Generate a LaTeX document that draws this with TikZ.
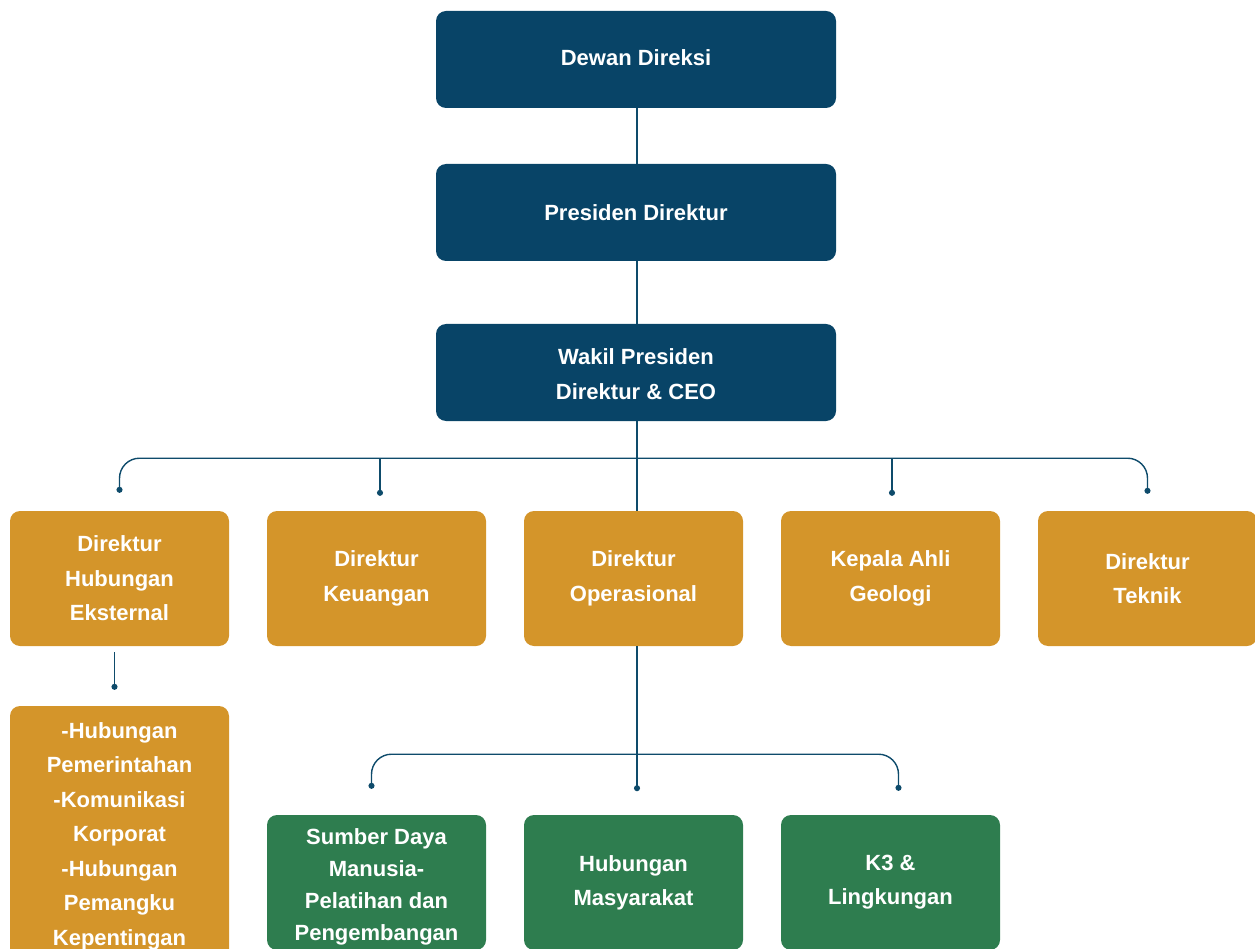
\documentclass[tikz,border=0pt]{standalone}
\usepackage{fontspec}
\setmainfont{Liberation Sans}
\usetikzlibrary{arrows.meta,calc}
\definecolor{navy}{HTML}{084467}
\definecolor{ochre}{HTML}{D4952A}
\definecolor{leaf}{HTML}{2E7D4F}
\definecolor{wire}{HTML}{0E4B6B}
\begin{document}
\begin{tikzpicture}[x=1pt,y=-1pt,
  box/.style={rounded corners=10pt, minimum width=219pt, minimum height=135pt,
    text=white, align=center, inner sep=0pt,
    font=\bfseries\fontsize{22}{34.5}\selectfont},
  topbox/.style={box, fill=navy, minimum width=400pt, minimum height=97pt},
  dirbox/.style={box, fill=ochre},
  unitbox/.style={box, fill=leaf, font=\bfseries\fontsize{22}{32}\selectfont},
  link/.style={draw=wire, line width=1.4pt},
  dot/.style={-{Circle[length=6pt]}}
]
\useasboundingbox (0,0) rectangle (1255,949);
\clip (0,0) rectangle (1255,949);

% board and executive levels
\node[topbox] (dewan) at (636,59.5) {};
\node[text=white, font=\bfseries\fontsize{22}{34.5}\selectfont] at ($(dewan)+(0,-2)$) {Dewan Direksi};
\node[topbox] (pres) at (636,212.5) {Presiden Direktur};
\node[topbox] (wakil) at (636,372.5) {};
\node[text=white, align=center, inner sep=0pt, font=\bfseries\fontsize{22}{34.5}\selectfont]
  at ($(wakil)+(0,1.5)$) {Wakil Presiden\\Direktur \& CEO};

% directors
\node[dirbox] (hub) at (119.5,578.5) {Direktur\\Hubungan\\Eksternal};
\node[dirbox] (keu) at (376.5,578.5) {Direktur\\Keuangan};
\node[dirbox] (ops) at (633.5,578.5) {Direktur\\Operasional};
\node[dirbox] (geo) at (890.5,578.5) {Kepala Ahli\\Geologi};
\node[dirbox] (tek) at (1147.5,578.5) {Direktur\\Teknik};

% departments
\node[dirbox, minimum height=256pt] (ext) at (119.5,834) {};
\node[text=white, align=center, inner sep=0pt, font=\bfseries\fontsize{22}{34.5}\selectfont]
  at ($(ext)+(0,2)$) {-Hubungan\\Pemerintahan\\-Komunikasi\\Korporat\\-Hubungan\\Pemangku\\Kepentingan};
\node[unitbox] (sdm) at (376.5,882.5) {};
\node[unitbox] (hm) at (633.5,882.5) {};
\node[unitbox] (k3) at (890.5,882.5) {};
\begin{scope}[every node/.style={text=white, align=center, inner sep=0pt,
    font=\bfseries\fontsize{22}{32}\selectfont}]
  \node at ($(sdm)+(0,4)$) {Sumber Daya\\Manusia-\\Pelatihan dan\\Pengembangan};
  \node[font=\bfseries\fontsize{22}{34}\selectfont] at (hm) {Hubungan\\Masyarakat};
  \node[font=\bfseries\fontsize{22}{34}\selectfont] at (k3) {K3 \&\\Lingkungan};
\end{scope}

% vertical chain
\draw[link] (dewan.south -| 637,0) -- (pres.north -| 637,0);
\draw[link] (pres.south -| 637,0) -- (wakil.north -| 637,0);
\draw[link] (wakil.south -| 637,0) -- (ops.north -| 637,0);

% director bracket
\coordinate (bar) at ($(wakil.south -| 637,0)+(0,37)$);
\draw[link, rounded corners=20pt, {Circle[length=6pt]}-{Circle[length=6pt]}]
  ($(hub.north)+(0,-18)$) |- (bar) -| ($(tek.north)+(0,-17)$);
\draw[link, dot] ($(bar -| keu.north)+(3.5,0)$) -- ($(keu.north)+(3.5,-15)$);
\draw[link, dot] ($(bar -| geo.north)+(1.5,0)$) -- ($(geo.north)+(1.5,-15)$);

% external relations branch
\draw[link, dot] ($(hub.south)+(-5,6)$) -- ($(ext.north)+(-5,-16)$);

% operations bracket
\coordinate (bar2) at ($(ops.south -| 637,0)+(0,108)$);
\draw[link] (ops.south -| 637,0) -- ($(bar2)+(0,37)$);
\draw[link, dot] (bar2) -- ($(bar2)+(0,37)$);
\draw[link, rounded corners=20pt, {Circle[length=6pt]}-{Circle[length=6pt]}]
  ($(sdm.north)+(-5,-26)$) |- (bar2) -| ($(k3.north)+(8,-24)$);
\end{tikzpicture}
\end{document}
